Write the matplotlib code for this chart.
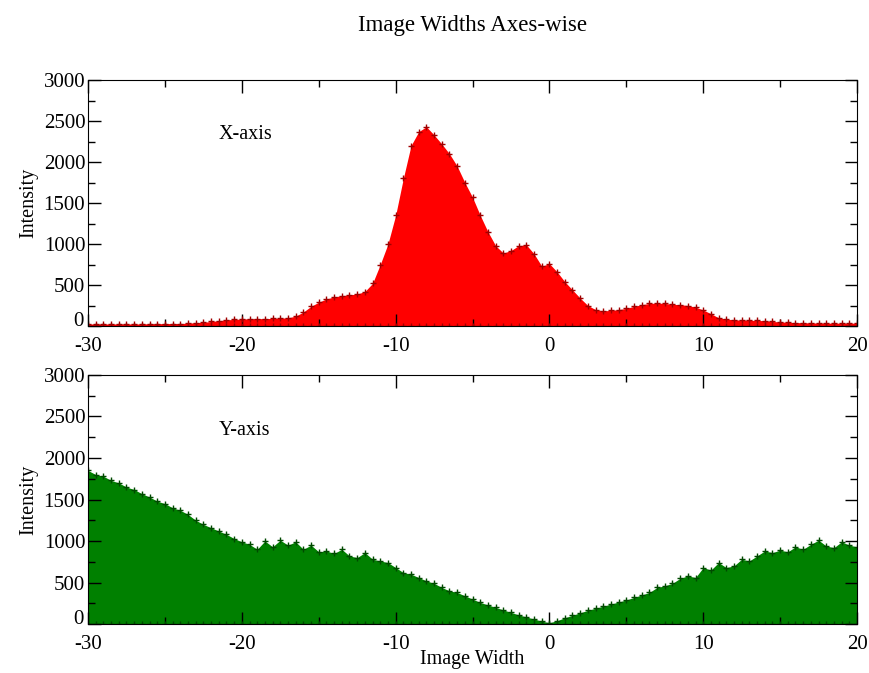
import numpy as np
import matplotlib.pyplot as plt
from matplotlib.ticker import MultipleLocator

plt.rcParams['font.family'] = ['Liberation Serif', 'DejaVu Serif']
plt.rcParams['axes.unicode_minus'] = False

# column positions (image width) and upper envelopes of the intensity clouds
width = [-30.0 + 0.5 * i for i in range(101)]

x_axis_int = [25, 25, 25, 25, 25, 25, 25, 25, 28, 28,
              30, 30, 30, 35, 40, 45, 55, 65, 75, 80,
              85, 88, 90, 90, 92, 95, 100, 120, 170, 240,
              290, 330, 355, 370, 380, 390, 420, 520, 750, 1000,
              1350, 1800, 2200, 2370, 2430, 2330, 2220, 2100, 1950, 1750,
              1570, 1350, 1150, 980, 890, 920, 980, 990, 880, 730,
              760, 660, 540, 440, 340, 250, 200, 185, 190, 200,
              215, 240, 260, 275, 280, 275, 265, 260, 250, 230,
              195, 150, 100, 85, 75, 72, 70, 68, 65, 55,
              50, 45, 42, 40, 38, 36, 35, 35, 35, 35, 35]

y_axis_int = [1850, 1800, 1780, 1730, 1700, 1650, 1620, 1570, 1530, 1480,
              1450, 1400, 1370, 1320, 1250, 1200, 1160, 1120, 1080, 1030,
              990, 960, 900, 1000, 930, 1010, 950, 990, 900, 950,
              870, 880, 850, 900, 820, 800, 860, 780, 760, 740,
              680, 620, 600, 560, 520, 490, 440, 400, 380, 340,
              300, 260, 230, 200, 170, 140, 110, 85, 60, 35,
              15, 40, 75, 105, 135, 165, 190, 215, 240, 265,
              290, 320, 350, 380, 440, 460, 490, 550, 580, 560,
              680, 650, 740, 680, 700, 780, 760, 820, 880, 860,
              890, 870, 930, 900, 960, 1010, 940, 920, 990, 950, 930]

y_ticks = [0, 500, 1000, 1500, 2000, 2500, 3000]

fig = plt.figure(figsize=(8.69, 6.73), dpi=100)
ax1 = fig.add_axes([0.1013, 0.5156, 0.8849, 0.3655])
ax2 = fig.add_axes([0.1013, 0.0728, 0.8849, 0.3700])

panels = [(ax1, x_axis_int, '#ff0000', '#a00000', 'X-axis'),
          (ax2, y_axis_int, '#008000', '#004a00', 'Y-axis')]

for ax, env, col, edge, lab in panels:
    ax.fill_between(width, 0, env, color=col, lw=0, zorder=1)
    ax.plot(width, env, '+', color=edge, ms=4, mew=1, zorder=2)
    ax.plot(width, [0] * len(width), '+', color=edge, ms=4, mew=1, zorder=2)
    ax.set_xlim(-30, 20)
    ax.set_ylim(0, 3000)
    ax.xaxis.set_major_locator(MultipleLocator(10))
    ax.xaxis.set_minor_locator(MultipleLocator(5))
    # the "0" label is drawn separately, nudged up so it clears "-30"
    ax.set_yticks(y_ticks, [''] + [str(t) for t in y_ticks[1:]])
    ax.yaxis.set_minor_locator(MultipleLocator(250))
    ax.tick_params(which='both', direction='in', top=True, right=True,
                   labelsize=15, width=1)
    ax.tick_params(axis='x', pad=8)
    ax.tick_params(axis='y', pad=2)
    ax.tick_params(which='major', length=9)
    ax.tick_params(which='minor', length=5)
    ax.annotate('0', xy=(0, 0), xycoords='axes fraction', xytext=(-3, 3),
                textcoords='offset points', ha='right', va='center',
                fontsize=15)
    ax.set_ylabel('Intensity', fontsize=14.5, labelpad=4)
    ax.text(-21.5, 2330, lab, fontsize=14.5, va='center')

ax2.set_xlabel('Image Width', fontsize=14.5, labelpad=-3)
fig.suptitle('Image Widths Axes-wise', fontsize=16.5, x=0.544, y=0.978)

plt.savefig('out.png', dpi=100)
